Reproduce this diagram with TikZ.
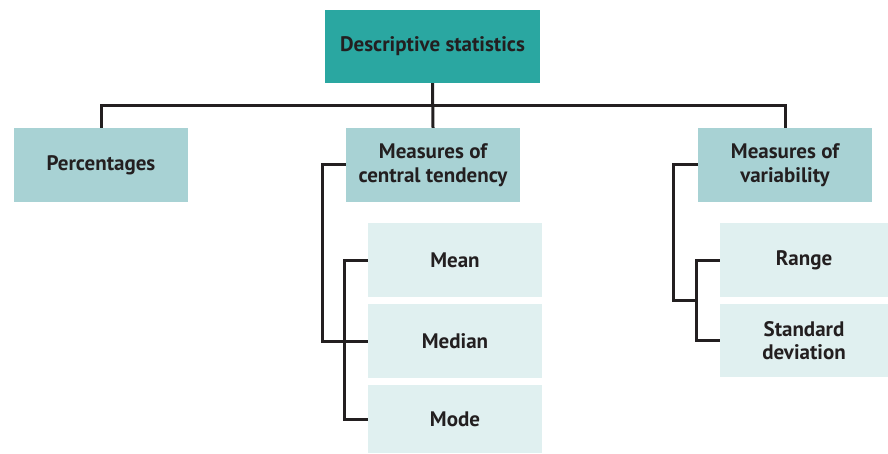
\documentclass[tikz,border=0pt]{standalone}
\usepackage{fontspec}
\setmainfont{PT Sans}
\usepackage{tikz}
\usetikzlibrary{positioning,calc}
\definecolor{headcolor}{RGB}{42,167,161}
\definecolor{groupcolor}{RGB}{168,210,212}
\definecolor{leafcolor}{RGB}{224,240,240}
\definecolor{inkcolor}{RGB}{35,31,32}
\tikzset{
  base box/.style={
    rectangle,
    draw=none,
    text=inkcolor,
    align=center,
    inner sep=2pt,
    font=\fontsize{21}{23.5}\selectfont\bfseries
  },
  head box/.style={
    base box,
    fill=headcolor,
    minimum width=215pt,
    minimum height=73pt
  },
  group box/.style={
    base box,
    fill=groupcolor,
    minimum width=174pt,
    minimum height=74pt
  },
  leaf box/.style={
    base box,
    fill=leafcolor,
    minimum width=174pt,
    minimum height=74pt
  },
  link/.style={
    draw=inkcolor,
    line width=3pt
  }
}

\begin{document}
\begin{tikzpicture}[x=1pt,y=-1pt]
  \useasboundingbox (0,0) rectangle (888,454);
  % Boxes
  \node[head box] (stats) at (432.5,46.5) {Descriptive statistics};
  \node[group box] (pct) at (101,165) {Percentages};
  \node[group box] (central) at (433,165) {Measures of\\central tendency};
  \node[group box] (variab) at (785,165) {Measures of\\variability};
  \node[leaf box] (mean) at (455,260) {Mean};
  \node[leaf box] (median) at (455,341) {Median};
  \node[leaf box, minimum height=68pt] (mode) at (455,419) {Mode};
  \node[leaf box, minimum width=168pt] (range) at (804,260) {Range};
  \node[leaf box, minimum width=168pt, minimum height=73pt] (stddev) at (804,340.5) {Standard\\deviation};

  % Tree lines
  \coordinate (bus) at (432.5,106);
  \draw[link] (pct.north) |- (bus) -| (variab.north);
  \draw[link] (stats.south) -- (central.north);
  \draw[link] (central.west) -- ++(-23,0) |- (median.west);
  \draw[link] (mean.west) -- ++(-23,0) |- (mode.west);
  \coordinate (vjoin) at ($(range.west)!.5!(stddev.west)+(-23,0)$);
  \draw[link] (range.west) -- ++(-23,0) |- (stddev.west);
  \draw[link] (variab.west) -- ++(-24,0) |- (vjoin);
\end{tikzpicture}
\end{document}
